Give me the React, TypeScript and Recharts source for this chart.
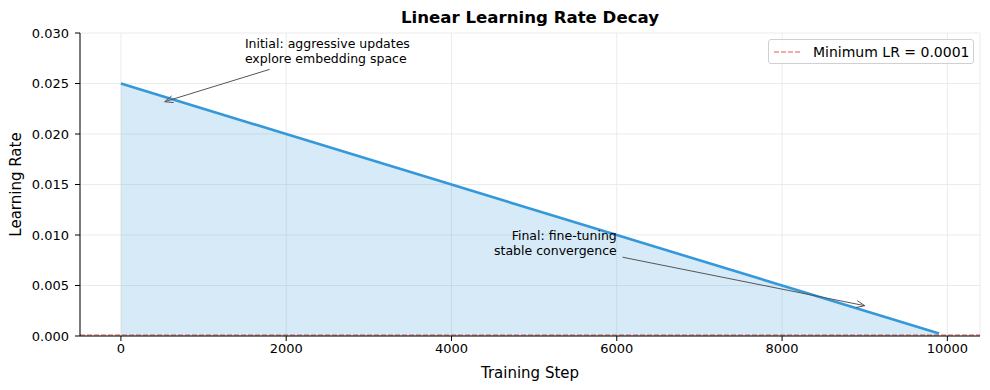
import React from "react";
import {
  ComposedChart,
  Area,
  XAxis,
  YAxis,
  CartesianGrid,
  ReferenceLine,
  ReferenceDot,
} from "recharts";

const steps = [0, 2000, 4000, 6000, 8000, 9900];
const learningRates = [0.025, 0.02, 0.015, 0.01, 0.005, 0.00025];
const xTicks = [0, 2000, 4000, 6000, 8000, 10000];
const yTicks = [0, 0.005, 0.01, 0.015, 0.02, 0.025, 0.03];
const minLr = 0.0001;

const initialNote = ["Initial: aggressive updates", "explore embedding space"];
const initialText = { x: 1500, y: 0.028 };
const initialArrow = [{ x: 1800, y: 0.0264 }, { x: 530, y: 0.0232 }];

const finalNote = ["Final: fine-tuning", "stable convergence"];
const finalText = { x: 6000, y: 0.009 };
const finalArrow = [{ x: 6070, y: 0.0078 }, { x: 9000, y: 0.003 }];

const data = steps.map((s, i) => ({ step: s, lr: learningRates[i] }));

const FONT = "DejaVu Sans, sans-serif";
const RED = "#e0473b";

function Arrow(props: any) {
  const { x1, y1, x2, y2 } = props;
  const a = Math.atan2(y2 - y1, x2 - x1);
  const len = 9;
  const spread = 0.4;
  const h1x = x2 - len * Math.cos(a - spread);
  const h1y = y2 - len * Math.sin(a - spread);
  const h2x = x2 - len * Math.cos(a + spread);
  const h2y = y2 - len * Math.sin(a + spread);
  return (
    <g stroke="#555" strokeWidth={1} fill="none">
      <line x1={x1} y1={y1} x2={x2} y2={y2} />
      <polyline points={`${h1x},${h1y} ${x2},${y2} ${h2x},${h2y}`} />
    </g>
  );
}

function Note(lines: string[], anchor: "start" | "end") {
  return (props: any) => (
    <text
      x={props.cx}
      y={props.cy}
      textAnchor={anchor}
      fontSize={12.5}
      fontFamily={FONT}
      fill="#000"
    >
      <tspan x={props.cx} dy={-5.5}>
        {lines[0]}
      </tspan>
      <tspan x={props.cx} dy={15}>
        {lines[1]}
      </tspan>
    </text>
  );
}

export default function App() {
  return (
    <div
      style={{
        position: "absolute",
        left: 0,
        top: 0,
        width: 990,
        height: 390,
        background: "#fff",
        fontFamily: FONT,
      }}
    >
      <div
        style={{
          position: "absolute",
          left: 80,
          width: 900,
          top: 8,
          textAlign: "center",
          fontWeight: "bold",
          fontSize: 16.6,
        }}
      >
        Linear Learning Rate Decay
      </div>
      <ComposedChart
        width={990}
        height={390}
        data={data}
        margin={{ top: 33, right: 10, left: 0, bottom: 0 }}
      >
        <CartesianGrid stroke="#e6e6e6" strokeWidth={0.8} />
        <XAxis
          dataKey="step"
          type="number"
          domain={[-495, 10395]}
          ticks={xTicks}
          allowDataOverflow
          height={54}
          stroke="#000"
          tick={{ fill: "#000", fontSize: 13, fontFamily: FONT }}
          tickSize={5}
          tickMargin={3}
          label={{
            value: "Training Step",
            position: "insideBottom",
            offset: 12,
            fill: "#000",
            fontSize: 15,
            fontFamily: FONT,
          }}
        />
        <YAxis
          type="number"
          domain={[0, 0.03]}
          ticks={yTicks}
          width={80}
          stroke="#000"
          tick={{ fill: "#000", fontSize: 13, fontFamily: FONT }}
          tickSize={5}
          tickMargin={6}
          tickFormatter={(v: number) => v.toFixed(3)}
          label={{
            value: "Learning Rate",
            angle: -90,
            position: "insideLeft",
            offset: 16,
            fill: "#000",
            fontSize: 15,
            fontFamily: FONT,
            style: { textAnchor: "middle" },
          }}
        />
        <Area
          type="linear"
          dataKey="lr"
          stroke="#3498db"
          strokeWidth={2.6}
          fill="#3498db"
          fillOpacity={0.2}
          isAnimationActive={false}
          dot={false}
          activeDot={false}
        />
        <ReferenceLine
          y={minLr}
          stroke={RED}
          strokeOpacity={0.9}
          strokeWidth={1.1}
          strokeDasharray="5 2"
        />
        <ReferenceLine
          segment={initialArrow}
          shape={(p: any) => <Arrow {...p} />}
        />
        <ReferenceLine
          segment={finalArrow}
          shape={(p: any) => <Arrow {...p} />}
        />
        <ReferenceDot
          x={initialText.x}
          y={initialText.y}
          shape={Note(initialNote, "start")}
        />
        <ReferenceDot
          x={finalText.x}
          y={finalText.y}
          shape={Note(finalNote, "end")}
        />
      </ComposedChart>
      <div
        style={{
          position: "absolute",
          left: 768,
          top: 39,
          width: 204,
          height: 23,
          border: "1px solid #d0d0d0",
          borderRadius: 3,
          background: "rgba(255,255,255,0.8)",
          display: "flex",
          alignItems: "center",
          fontSize: 14,
        }}
      >
        <svg width={40} height={10} style={{ marginLeft: 4 }}>
          <line
            x1={1}
            y1={5}
            x2={29}
            y2={5}
            stroke={RED}
            strokeOpacity={0.9}
            strokeWidth={1.1}
            strokeDasharray="5 2"
          />
        </svg>
        <span>Minimum LR = 0.0001</span>
      </div>
    </div>
  );
}
